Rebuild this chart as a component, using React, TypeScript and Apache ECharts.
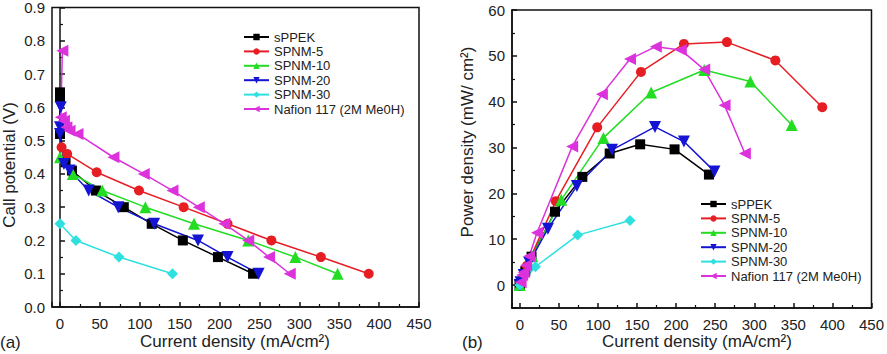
import React, { useEffect, useRef } from "react";
import * as echarts from "echarts";

// Polarization (V) and power density (mW/cm²) against current density (mA/cm²)
const seriesNames = ["sPPEK", "SPNM-5", "SPNM-10", "SPNM-20", "SPNM-30", "Nafion 117 (2M Me0H)"];

const sppekCurrent = [0, 0, 0, 7, 15, 45, 80, 115, 154, 198, 242];
const sppekVoltage = [0.645, 0.63, 0.52, 0.435, 0.41, 0.35, 0.3, 0.25, 0.2, 0.15, 0.1];
const sppekPower = [0, 0, 0, 3, 6.2, 16, 23.6, 28.7, 30.7, 29.6, 24.1];

const spnm5Current = [2, 9, 46, 99, 155, 210, 265, 327, 387];
const spnm5Voltage = [0.48, 0.46, 0.405, 0.35, 0.3, 0.25, 0.2, 0.15, 0.1];
const spnm5Power = [1, 4.2, 18.3, 34.4, 46.5, 52.6, 53, 49, 38.8];

const spnm10Current = [0, 16, 53, 107, 168, 236, 295, 348];
const spnm10Voltage = [0.45, 0.4, 0.35, 0.3, 0.25, 0.2, 0.15, 0.1];
const spnm10Power = [0, 6.3, 18.6, 32.1, 42, 46.9, 44.4, 34.9];

const spnm20Current = [1, 0, 0, 5, 12, 36, 73, 118, 173, 210, 249];
const spnm20Voltage = [0.6, 0.54, 0.52, 0.43, 0.41, 0.35, 0.3, 0.25, 0.2, 0.15, 0.1];
const spnm20Power = [0.6, 0, 0, 2.2, 4.9, 12.3, 21.6, 29.5, 34.5, 31.3, 24.8];

const spnm30Current = [0, 20, 74, 141];
const spnm30Voltage = [0.25, 0.2, 0.15, 0.1];
const spnm30Power = [0, 4, 10.9, 14.1];

const nafionCurrent = [3, 1, 5, 8, 12, 22, 67, 105, 141, 174, 206, 236, 262, 288];
const nafionVoltage = [0.77, 0.57, 0.56, 0.54, 0.53, 0.52, 0.45, 0.4, 0.35, 0.3, 0.25, 0.2, 0.15, 0.1];
const nafionPower = [2.2, 0.6, 2.8, 4.3, 6.3, 11.4, 30.2, 41.6, 49.3, 52, 51.3, 47, 39.2, 28.7];

const currents = [sppekCurrent, spnm5Current, spnm10Current, spnm20Current, spnm30Current, nafionCurrent];
const voltages = [sppekVoltage, spnm5Voltage, spnm10Voltage, spnm20Voltage, spnm30Voltage, nafionVoltage];
const powers = [sppekPower, spnm5Power, spnm10Power, spnm20Power, spnm30Power, nafionPower];

const colors = ["#000000", "#e61e24", "#22dd22", "#1414d2", "#2ee0e0", "#dc32dc"];
const symbols = ["rect", "circle", "triangle", "triangle", "diamond", "triangle"];
const symbolSizes = [10, 10, 12, 12, 11, 12];
const symbolRotates = [0, 0, 0, 180, 0, 90];

const FONT = "Liberation Sans, Arial, Helvetica, sans-serif";
const TEXT = "#222";
const AXIS = "#111";

function pair(xs: number[], ys: number[]) {
  return xs.map((x, i) => [x, ys[i]]);
}

function valueAxisX(gridIndex: number) {
  return {
    type: "value",
    gridIndex,
    min: -10,
    max: 450,
    splitNumber: 9,
    axisLine: { show: true, onZero: false, lineStyle: { color: AXIS, width: 1.5 } },
    axisTick: { show: true, inside: true, length: 5, lineStyle: { color: AXIS, width: 1.5 } },
    minorTick: { show: true, splitNumber: 2, length: 3, lineStyle: { color: AXIS, width: 1.2 } },
    splitLine: { show: false },
    axisLabel: {
      color: TEXT,
      fontSize: 15,
      fontFamily: FONT,
      margin: 9,
      formatter: (v: number) => (v < 0 ? "" : String(v)),
    },
  };
}

export default function App() {
  const ref = useRef<HTMLDivElement>(null);

  useEffect(() => {
    if (!ref.current) return;
    const chart = echarts.init(ref.current, undefined, { renderer: "svg" });

    const series: any[] = [];
    seriesNames.forEach((name, i) => {
      const common = {
        name,
        type: "line",
        symbol: symbols[i],
        symbolSize: symbolSizes[i],
        symbolRotate: symbolRotates[i],
        color: colors[i],
        lineStyle: { color: colors[i], width: 1.5 },
        itemStyle: { color: colors[i] },
        clip: true,
      };
      series.push({ ...common, xAxisIndex: 0, yAxisIndex: 0, data: pair(currents[i], voltages[i]) });
      series.push({ ...common, xAxisIndex: 1, yAxisIndex: 1, data: pair(currents[i], powers[i]) });
    });

    const legendCommon = {
      orient: "vertical",
      data: seriesNames,
      itemWidth: 25,
      itemHeight: 8,
      itemGap: 0.4,
      padding: 0,
      textStyle: { color: TEXT, fontSize: 13, fontFamily: FONT, lineHeight: 14 },
    };

    chart.setOption({
      animation: false,
      backgroundColor: "#ffffff",
      textStyle: { fontFamily: FONT },
      grid: [
        { left: 52, top: 6, width: 367, height: 301, show: true, borderColor: AXIS, borderWidth: 1.5, backgroundColor: "transparent" },
        { left: 512, top: 10, width: 366, height: 298, show: true, borderColor: AXIS, borderWidth: 1.5, backgroundColor: "transparent" },
      ],
      xAxis: [valueAxisX(0), valueAxisX(1)],
      yAxis: [
        {
          type: "value",
          gridIndex: 0,
          min: 0,
          max: 0.9,
          interval: 0.1,
          axisLine: { show: true, lineStyle: { color: AXIS, width: 1.5 } },
          axisTick: { show: true, inside: true, length: 5, lineStyle: { color: AXIS, width: 1.5 } },
          minorTick: { show: true, splitNumber: 2, length: 3, lineStyle: { color: AXIS, width: 1.2 } },
          splitLine: { show: false },
          axisLabel: { color: TEXT, fontSize: 15, fontFamily: FONT, margin: 7, formatter: (v: number) => v.toFixed(1) },
        },
        {
          type: "value",
          gridIndex: 1,
          min: -5,
          max: 60,
          splitNumber: 6,
          axisLine: { show: true, onZero: false, lineStyle: { color: AXIS, width: 1.5 } },
          axisTick: { show: true, inside: true, length: 5, lineStyle: { color: AXIS, width: 1.5 } },
          minorTick: { show: true, splitNumber: 2, length: 3, lineStyle: { color: AXIS, width: 1.2 } },
          splitLine: { show: false },
          axisLabel: {
            color: TEXT,
            fontSize: 15,
            fontFamily: FONT,
            margin: 7,
            formatter: (v: number) => (v < 0 ? "" : String(v)),
          },
        },
      ],
      legend: [
        { ...legendCommon, left: 243, top: 30 },
        { ...legendCommon, left: 700, top: 197 },
      ],
      graphic: [
        {
          type: "text",
          x: 9,
          y: 165,
          rotation: Math.PI / 2,
          style: { text: "Call potential (V)", fill: TEXT, font: `17px ${FONT}`, align: "center", verticalAlign: "middle" },
        },
        {
          type: "text",
          x: 467,
          y: 142,
          rotation: Math.PI / 2,
          style: { text: "Power density (mW/ cm²)", fill: TEXT, font: `17px ${FONT}`, align: "center", verticalAlign: "middle" },
        },
        {
          type: "text",
          x: 235,
          y: 341,
          style: { text: "Current density (mA/cm²)", fill: TEXT, font: `17px ${FONT}`, align: "center", verticalAlign: "middle" },
        },
        {
          type: "text",
          x: 697,
          y: 341,
          style: { text: "Current density (mA/cm²)", fill: TEXT, font: `17px ${FONT}`, align: "center", verticalAlign: "middle" },
        },
        {
          type: "text",
          x: 0,
          y: 342,
          style: { text: "(a)", fill: TEXT, font: `17px ${FONT}`, align: "left", verticalAlign: "middle" },
        },
        {
          type: "text",
          x: 462,
          y: 342,
          style: { text: "(b)", fill: TEXT, font: `17px ${FONT}`, align: "left", verticalAlign: "middle" },
        },
      ],
      series,
    });

    return () => chart.dispose();
  }, []);

  return (
    <div
      ref={ref}
      style={{ position: "absolute", left: 0, top: 0, width: 887, height: 354, background: "#fff" }}
    />
  );
}
